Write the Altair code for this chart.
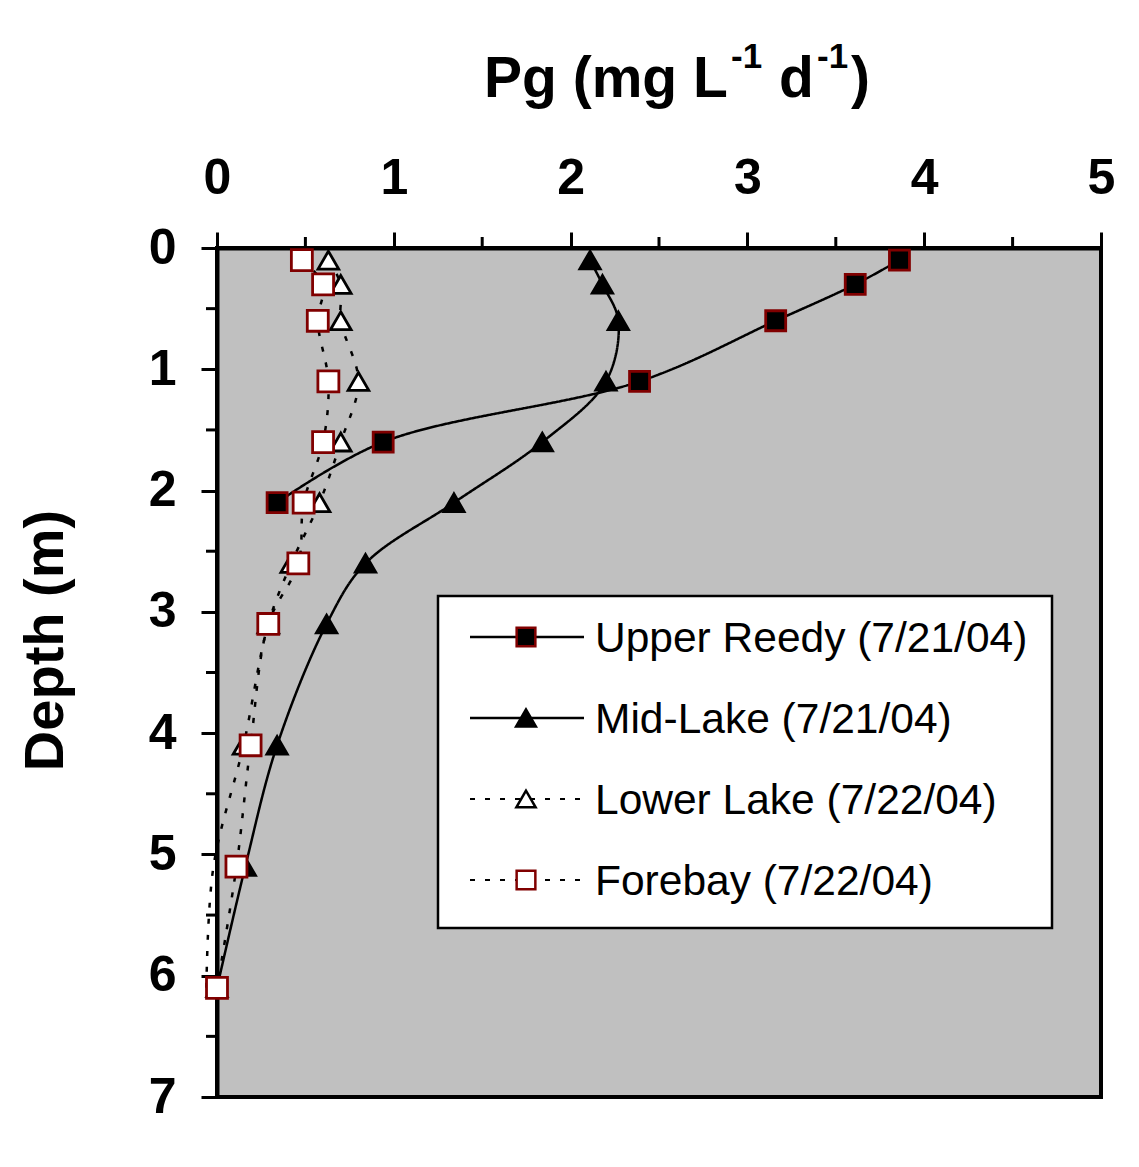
import altair as alt
import pandas as pd

# ---------------- data ----------------
depths = [0.1, 0.3, 0.6, 1.1, 1.6, 2.1, 2.6, 3.1, 4.1, 5.1, 6.1]
series_names = ["Upper Reedy", "Mid-Lake", "Lower Lake", "Forebay"]
legend_labels = ["Upper Reedy (7/21/04)", "Mid-Lake (7/21/04)",
                 "Lower Lake (7/22/04)", "Forebay (7/22/04)"]
upper_reedy = [3.86, 3.61, 3.16, 2.39, 0.94, 0.34]
mid_lake = [2.11, 2.18, 2.27, 2.20, 1.84, 1.34, 0.84, 0.62, 0.34, 0.16, 0.0]
lower_lake = [0.63, 0.70, 0.70, 0.80, 0.70, 0.58, 0.42, 0.29, 0.15, -0.02, -0.06]
forebay = [0.48, 0.60, 0.57, 0.63, 0.60, 0.49, 0.46, 0.29, 0.19, 0.11, 0.0]

x_ticks = [0, 1, 2, 3, 4, 5]
x_minor = [0.5, 1.5, 2.5, 3.5, 4.5]
y_ticks = [0, 1, 2, 3, 4, 5, 6, 7]
y_minor = [0.5, 1.5, 2.5, 3.5, 4.5, 5.5, 6.5]

rows = []
for name, vals in zip(series_names, [upper_reedy, mid_lake, lower_lake, forebay]):
    for d, v in zip(depths, vals):
        rows.append({"series": name, "depth": d, "pg": v})
df = pd.DataFrame(rows)

# ---------------- styles ----------------
FONT = "Liberation Sans"
DARKRED = "#800000"
shapes = ["square", "triangle-up", "triangle-up", "square"]
fills = ["black", "black", "white", "white"]
strokes = [DARKRED, "black", "black", DARKRED]
sizes = [400, 440, 420, 400]
dashes = [[1, 0], [1, 0], [5, 11], [5, 11]]
widths = [2.5, 2.5, 3, 3]

x_scale = alt.Scale(domain=[0, 5], nice=False, zero=False)
y_scale = alt.Scale(domain=[0, 7], reverse=True, nice=False, zero=False)

x_axis = alt.Axis(orient="top", values=x_ticks, format="d", title=None, grid=False,
                  domainColor="black", domainWidth=4, tickColor="black", tickWidth=3,
                  tickSize=16, labelFont=FONT, labelFontSize=50, labelFontWeight="bold",
                  labelColor="black", labelPadding=29, labelFlush=False)
y_axis = alt.Axis(orient="left", values=y_ticks, format="d", title="Depth (m)", grid=False,
                  domainColor="black", domainWidth=4, tickColor="black", tickWidth=3,
                  tickSize=16, labelFont=FONT, labelFontSize=50, labelFontWeight="bold",
                  labelColor="black", labelPadding=25, labelFlush=False,
                  titleFont=FONT, titleFontSize=56, titleFontWeight="bold",
                  titleColor="black", titleAngle=270, titleX=-155, titleY=392,
                  titleAlign="center", titleBaseline="alphabetic")

lines = alt.Chart(df).mark_line(interpolate="catmull-rom", strokeCap="butt",
                                color="black").encode(
    x=alt.X("pg:Q", scale=x_scale, axis=x_axis),
    y=alt.Y("depth:Q", scale=y_scale, axis=y_axis),
    detail="series:N",
    order="depth:Q",
    strokeDash=alt.StrokeDash("series:N", scale=alt.Scale(domain=series_names, range=dashes),
                              legend=None),
    strokeWidth=alt.StrokeWidth("series:N", scale=alt.Scale(domain=series_names, range=widths),
                                legend=None),
)

points = alt.Chart(df).transform_filter("datum.pg >= 0").mark_point(
    opacity=1, fillOpacity=1, strokeOpacity=1, strokeWidth=2.8).encode(
    x=alt.X("pg:Q", scale=x_scale, axis=x_axis),
    y=alt.Y("depth:Q", scale=y_scale, axis=y_axis),
    shape=alt.Shape("series:N", scale=alt.Scale(domain=series_names, range=shapes), legend=None),
    fill=alt.Fill("series:N", scale=alt.Scale(domain=series_names, range=fills), legend=None),
    stroke=alt.Stroke("series:N", scale=alt.Scale(domain=series_names, range=strokes), legend=None),
    size=alt.Size("series:N", scale=alt.Scale(domain=series_names, range=sizes), legend=None),
)

# minor ticks (unlabelled, shorter, outside the plot)
x_minor_ticks = alt.Chart(pd.DataFrame({"pg": x_minor})).mark_rule(
    color="black", strokeWidth=3).encode(
    x=alt.X("pg:Q", scale=x_scale, axis=x_axis), y=alt.value(0), y2=alt.value(-11))
y_minor_ticks = alt.Chart(pd.DataFrame({"depth": y_minor})).mark_rule(
    color="black", strokeWidth=3).encode(
    y=alt.Y("depth:Q", scale=y_scale, axis=y_axis), x=alt.value(0), x2=alt.value(-11))

# x-axis title with superscripts
title_parts = [
    ("Pg (mg L", 267, -151, 57),
    ("-1", 731 - 217, -180, 35),
    ("d", 779 - 217, -151, 57),
    ("-1", 817 - 217, -180, 35),
    (")", 851 - 217, -151, 57),
]
title_layers = []
for txt, tx, ty, fs in title_parts:
    title_layers.append(
        alt.Chart(pd.DataFrame({"t": [txt]})).mark_text(
            align="left", baseline="alphabetic", font=FONT, fontSize=fs,
            fontWeight="bold", color="black").encode(
            x=alt.value(tx), y=alt.value(ty), text="t:N"))

# legend
legend_layers = [
    alt.Chart(pd.DataFrame({"a": [0]})).mark_rect(
        fill="white", stroke="black", strokeWidth=2.5).encode(
        x=alt.value(221), x2=alt.value(835), y=alt.value(348), y2=alt.value(680))
]
for i, (name, label) in enumerate(zip(series_names, legend_labels)):
    ry = 389 + i * 81
    one = pd.DataFrame({"s": [name], "label": [label]})
    if i < 2:
        rule = alt.Chart(one).mark_rule(color="black", strokeWidth=2.5)
    else:
        rule = alt.Chart(one).mark_rule(color="black", strokeWidth=2, strokeDash=[5, 10])
    legend_layers.append(rule.encode(x=alt.value(253), x2=alt.value(367), y=alt.value(ry)))
    legend_layers.append(
        alt.Chart(one).mark_point(shape=shapes[i], size=sizes[i] - 50, fill=fills[i],
                                  stroke=strokes[i], strokeWidth=2.5, opacity=1,
                                  fillOpacity=1).encode(
            x=alt.value(309), y=alt.value(ry)))
    legend_layers.append(
        alt.Chart(one).mark_text(align="left", baseline="middle", font=FONT, fontSize=42.5,
                                 color="black").encode(
            x=alt.value(378), y=alt.value(ry + 2), text="label:N"))

chart = alt.layer(
    lines, points, x_minor_ticks, y_minor_ticks, *title_layers, *legend_layers
).properties(
    width=884, height=849,
    autosize=alt.AutoSizeParams(type="none"),
    padding={"left": 209, "top": 240, "right": 30, "bottom": 60},
    background="white",
).configure_view(
    fill="#C0C0C0", stroke="black", strokeWidth=4
).configure_text(font=FONT)

chart.save("out.html", embed_options={"renderer": "svg", "actions": False})
